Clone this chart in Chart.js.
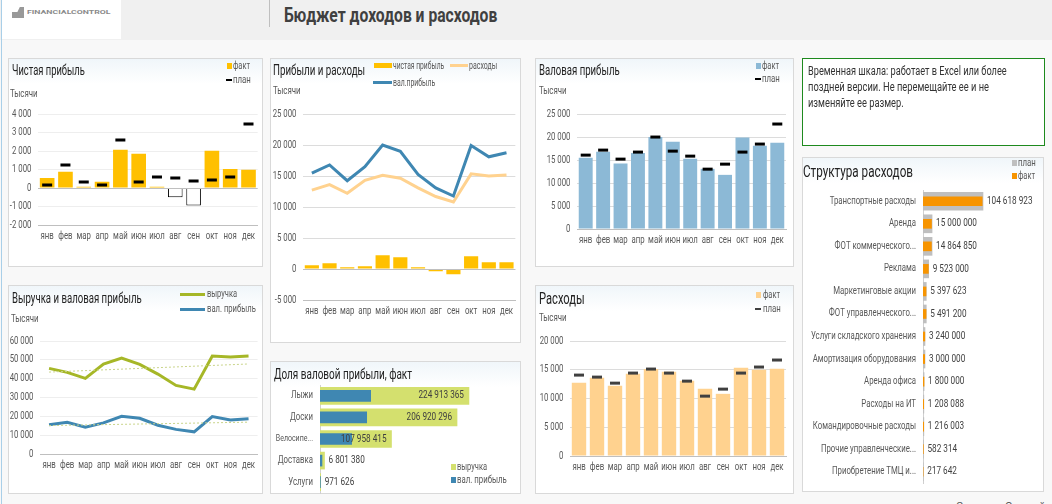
<!DOCTYPE html>
<html lang="ru">
<head>
<meta charset="utf-8">
<title>Бюджет доходов и расходов</title>
<script src="https://cdn.jsdelivr.net/npm/chart.js@4"></script>
<style>
    html, body { margin: 0; padding: 0; }
    body { width: 1052px; height: 504px; overflow: hidden; position: relative; background: #f8f8f8; font-family: Roboto, sans-serif; color: #595959; }
    .band { position: absolute; left: 0; top: 0; width: 1052px; height: 40px; background: #f0f0f0; }
    .logo { position: absolute; left: 2px; top: 0; width: 119px; height: 39px; background: #fff; }
    .logo span { position: absolute; left: 25px; top: 8px; font-size: 6px; font-weight: bold; color: #8a8a8a; transform-origin: left; }
    .logo i { position: absolute; left: 10px; top: 7px; width: 12px; height: 11px; background: #999; clip-path: polygon(0 45%, 45% 45%, 65% 0, 100% 0, 100% 100%, 0 100%); }
    .sep { position: absolute; left: 269px; top: 0; width: 1px; height: 27px; background: #bfbfbf; }
    .edge { position: absolute; left: 1px; top: 0; width: 1px; height: 504px; background: #a9cfe8; }
    h1 { position: absolute; left: 284px; top: 3px; margin: 0; font-size: 20px; font-weight: bold; color: #404040; white-space: nowrap; transform-origin: left; }
    .panel { position: absolute; background: #fff; border: 1px solid #d9d9d9; box-sizing: border-box; }
    .panel::before { content: ""; position: absolute; left: 0; right: 0; top: 0; height: 25px; background: linear-gradient(#f0f6fa, #fff); }
    .panel canvas { position: absolute; left: 0; top: 0; }
    .ttl, .unit, .leg, .line { position: absolute; white-space: nowrap; transform-origin: left; z-index: 2; }
    .ttl { font-size: 14px; color: #222; }
    .unit { font-size: 11px; line-height: 14px; color: #595959; }
    .leg { font-size: 10px; line-height: 12px; color: #595959; }
    .sw { position: absolute; display: block; z-index: 2; }
    .note { position: absolute; left: 802px; top: 58px; width: 243px; height: 88px; box-sizing: border-box; background: #fff; border: 1px solid #1e8a1e; }
    .line { left: 5px; font-size: 12px; line-height: 16px; color: #333; }
    .clip { position: absolute; top: 500px; font-size: 11px; line-height: 13px; color: #595959; }
</style>
</head>
<body>
<div class="band"></div>
<div class="edge"></div>
<div class="logo"><i></i><span data-w="84">FINANCIALCONTROL</span></div>
<div class="sep"></div>
<h1 data-w="213">Бюджет доходов и расходов</h1>

<div class="panel" style="left:8px;top:58px;width:255px;height:209px">
    <div class="ttl" style="left:3px;top:3px" data-w="73">Чистая прибыль</div>
    <div class="unit" style="left:1px;top:28px" data-w="28">Тысячи</div>
    <b class="sw" style="left:218px;top:4px;width:5px;height:6px;background:#ffc000"></b>
    <div class="leg" style="left:224px;top:1px" data-w="17">факт</div>
    <b class="sw" style="left:217px;top:20px;width:6px;height:2px;background:#000"></b>
    <div class="leg" style="left:224px;top:15px" data-w="18">план</div>
    <canvas id="netChart" width="253" height="207"></canvas>
</div>
<div class="panel" style="left:270px;top:58px;width:251px;height:285px">
    <div class="ttl" style="left:2px;top:3px" data-w="92">Прибыли и расходы</div>
    <div class="unit" style="left:2px;top:25px" data-w="28">Тысячи</div>
    <b class="sw" style="left:103px;top:4px;width:18px;height:5px;background:#ffc000"></b>
    <div class="leg" style="left:122px;top:1px" data-w="51">чистая прибыль</div>
    <b class="sw" style="left:179px;top:5px;width:18px;height:3px;background:#ffd28f"></b>
    <div class="leg" style="left:198px;top:1px" data-w="28">расходы</div>
    <b class="sw" style="left:102px;top:22px;width:19px;height:3px;background:#3f87b2"></b>
    <div class="leg" style="left:122px;top:18px" data-w="42">вал.прибыль</div>
    <canvas id="mixChart" width="249" height="283"></canvas>
</div>
<div class="panel" style="left:535px;top:58px;width:259px;height:209px">
    <div class="ttl" style="left:3px;top:3px" data-w="81">Валовая прибыль</div>
    <div class="unit" style="left:3px;top:25px" data-w="28">Тысячи</div>
    <b class="sw" style="left:220px;top:4px;width:5px;height:6px;background:#8cb9d6"></b>
    <div class="leg" style="left:226px;top:1px" data-w="17">факт</div>
    <b class="sw" style="left:219px;top:19px;width:6px;height:2px;background:#000"></b>
    <div class="leg" style="left:226px;top:14px" data-w="18">план</div>
    <canvas id="grossChart" width="257" height="207"></canvas>
</div>
<div class="note">
    <div class="line" style="top:4px" data-w="199">Временная шкала: работает в Excel или более</div>
    <div class="line" style="top:20px" data-w="181">поздней версии. Не перемещайте ее и не</div>
    <div class="line" style="top:36px" data-w="96">изменяйте ее размер.</div>
</div>
<div class="panel" style="left:802px;top:157px;width:242px;height:335px">
    <div class="ttl" style="left:0;top:3px;font-size:17px" data-w="110">Структура расходов</div>
    <b class="sw" style="left:209px;top:2px;width:5px;height:6px;background:#bfbfbf"></b>
    <div class="leg" style="left:215px;top:-1px" data-w="18">план</div>
    <b class="sw" style="left:209px;top:15px;width:5px;height:6px;background:#f79400"></b>
    <div class="leg" style="left:215px;top:12px" data-w="17">факт</div>
    <canvas id="costChart" width="240" height="341"></canvas>
</div>
<div class="panel" style="left:8px;top:285px;width:255px;height:209px">
    <div class="ttl" style="left:3px;top:4px" data-w="130">Выручка и валовая прибыль</div>
    <div class="unit" style="left:2px;top:26px" data-w="28">Тысячи</div>
    <b class="sw" style="left:171px;top:7px;width:25px;height:3px;background:#a6b727"></b>
    <div class="leg" style="left:198px;top:2px" data-w="30">выручка</div>
    <b class="sw" style="left:171px;top:22px;width:25px;height:3px;background:#3f87b2"></b>
    <div class="leg" style="left:198px;top:17px" data-w="49">вал. прибыль</div>
    <canvas id="revChart" width="253" height="207"></canvas>
</div>
<div class="panel" style="left:270px;top:361px;width:251px;height:133px">
    <div class="ttl" style="left:3px;top:4px" data-w="138">Доля валовой прибыли, факт</div>
    <b class="sw" style="left:180px;top:102px;width:5px;height:6px;background:#d4e06e"></b>
    <div class="leg" style="left:186px;top:99px" data-w="30">выручка</div>
    <b class="sw" style="left:180px;top:115px;width:5px;height:6px;background:#3f87b2"></b>
    <div class="leg" style="left:186px;top:112px" data-w="50">вал. прибыль</div>
    <canvas id="shareChart" width="249" height="147"></canvas>
</div>
<div class="panel" style="left:535px;top:285px;width:259px;height:209px">
    <div class="ttl" style="left:3px;top:2px;font-size:17px" data-w="46">Расходы</div>
    <div class="unit" style="left:3px;top:25px" data-w="28">Тысячи</div>
    <b class="sw" style="left:220px;top:6px;width:5px;height:6px;background:#ffd28f"></b>
    <div class="leg" style="left:227px;top:3px" data-w="17">факт</div>
    <b class="sw" style="left:219px;top:22px;width:6px;height:2px;background:#404040"></b>
    <div class="leg" style="left:227px;top:17px" data-w="18">план</div>
    <canvas id="costMonthChart" width="257" height="207"></canvas>
</div>
<div class="clip" style="left:956px">С</div>
<div class="clip" style="left:1005px">О</div>
<div class="clip" style="left:1039px">й</div>

<script>
const months = ['янв', 'фев', 'мар', 'апр', 'май', 'июн', 'июл', 'авг', 'сен', 'окт', 'ноя', 'дек'];

const netFact = [540, 880, 70, 340, 2070, 1855, 70, -505, -940, 2020, 1030, 990];
const netPlan = [160, 1240, 320, 160, 2590, 320, 595, 540, 380, 430, 595, 3460];
const netMix = [590, 920, 270, 430, 2200, 1890, 270, -380, -860, 2050, 1080, 1080];
const grossFact = [15480, 16790, 14240, 16500, 19990, 18970, 15260, 13080, 11770, 19910, 18100, 18750];
const grossPlan = [16060, 17150, 15190, 16720, 19990, 16930, 15840, 13010, 14100, 16720, 18460, 22820];
const costFact = [12730, 13600, 12210, 14300, 15120, 14650, 13080, 11690, 10810, 15350, 15000, 15170];
const costPlan = [14070, 13720, 12670, 14420, 15120, 14420, 13020, 10410, 11630, 14420, 15470, 16690];
const revenue = [45460, 43330, 40140, 47780, 50980, 47600, 42450, 36410, 34460, 52040, 51510, 52040];
// trend lines only have their two ends, the gap is spanned
const revenueTrend = [43500, null, null, null, null, null, null, null, null, null, null, 47800];
const grossTrend = [15100, null, null, null, null, null, null, null, null, null, null, 16900];

const shareCats = ['Лыжи', 'Доски', 'Велосипе...', 'Доставка', 'Услуги'];
const shareRevenue = [224913365, 206920296, 107958415, 6801380, 971626];
const shareGross = [76500000, 70500000, 47800000, 3000000, 600000];

const structCats = ['Транспортные расходы', 'Аренда', 'ФОТ коммерческого...', 'Реклама', 'Маркетинговые акции', 'ФОТ управленческого...', 'Услуги складского хранения', 'Амортизация оборудования', 'Аренда офиса', 'Расходы на ИТ', 'Командировочные расходы', 'Прочие управленческие...', 'Приобретение ТМЦ и...'];
const structFact = [104618923, 15000000, 14864850, 9523000, 5397623, 5491200, 3240000, 3000000, 1800000, 1208088, 1216003, 582314, 217642];
const structPlan = [106000000, 16000000, 16000000, 10000000, 5800000, 5800000, 3500000, 3500000, 1900000, 1500000, 1500000, 900000, 500000];

// The reference text is squeezed sideways, no installed font is that narrow
const squeeze = 0.78;
document.querySelectorAll('[data-w]').forEach(el => {
    el.style.transform = `scaleX(${el.dataset.w / el.offsetWidth})`;
});

const tickFont = { family: 'Roboto, sans-serif', size: 10 };
const labelFont = '10.5px Roboto, sans-serif';
const tickColor = '#595959';

Chart.defaults.animation = false;
Chart.defaults.responsive = false;
Chart.defaults.plugins.legend.display = false;
Chart.defaults.plugins.tooltip.enabled = false;

// Same squeeze for everything Chart.js writes on the canvas
Chart.register({
    id: 'narrowText',
    beforeInit(chart) {
        const ctx = chart.ctx;
        const fillText = ctx.fillText.bind(ctx);
        ctx.fillText = (text, x, y) => {
            ctx.save();
            ctx.translate(x, y);
            ctx.scale(squeeze, 1);
            fillText(text, 0, 0);
            ctx.restore();
        };
    }
});

const spaced = n => String(n).replace(/\B(?=(\d{3})+$)/g, ' ');

// Pixel box of a plot, given in canvas coordinates
function fixedScales(box, canvasW, canvasH, yMin, yMax, yStep, gridColor) {
    return {
        layout: { autoPadding: false, padding: { left: 0, right: canvasW - box.right, top: box.top, bottom: 0 } },
        scales: {
            x: {
                offset: true,
                grid: { display: false, drawTicks: false },
                border: { color: '#bfbfbf' },
                ticks: { font: tickFont, color: tickColor, autoSkip: false, maxRotation: 0, padding: 5 },
                afterFit: s => { s.height = canvasH - box.bottom; }
            },
            y: {
                min: yMin, max: yMax,
                grid: { color: gridColor, drawTicks: false },
                border: { display: false },
                ticks: { font: tickFont, color: tickColor, stepSize: yStep, padding: 6.5, callback: v => spaced(v) },
                afterFit: s => { s.width = box.left; }
            }
        }
    };
}

// Zero axis on top of the grid for charts with negative values
const zeroAxis = {
    id: 'zeroAxis',
    afterDatasetsDraw(chart) {
        const { ctx, chartArea, scales } = chart;
        const y = Math.round(scales.y.getPixelForValue(0)) + 0.5;
        ctx.save();
        ctx.strokeStyle = '#bfbfbf';
        ctx.beginPath();
        ctx.moveTo(chartArea.left, y);
        ctx.lineTo(chartArea.right, y);
        ctx.stroke();
        ctx.restore();
    }
};

function planDataset(values, color) {
    return {
        type: 'line', data: values, showLine: false, order: 0,
        pointStyle: 'line', pointRadius: 5, pointBorderWidth: 3,
        pointBorderColor: color, pointBackgroundColor: color
    };
}

// Чистая прибыль
new Chart(document.getElementById('netChart'), {
    type: 'bar',
    data: {
        labels: months,
        datasets: [
            planDataset(netPlan, '#000'),
            {
                data: netFact, order: 1, categoryPercentage: 1, barPercentage: 0.8,
                backgroundColor: netFact.map(v => v < 0 ? '#fff' : '#ffc000'),
                borderColor: netFact.map(v => v < 0 ? '#000' : '#ffc000'),
                borderWidth: netFact.map(v => v < 0 ? 1 : 0)
            }
        ]
    },
    options: fixedScales({ left: 29, right: 250, top: 55, bottom: 166 }, 253, 207, -2000, 4000, 1000, '#eeeeee'),
    plugins: [zeroAxis]
});

// Прибыли и расходы
new Chart(document.getElementById('mixChart'), {
    type: 'bar',
    data: {
        labels: months,
        datasets: [
            { type: 'line', data: grossFact, order: 0, borderColor: '#3f87b2', borderWidth: 3, pointRadius: 0, tension: 0 },
            { type: 'line', data: costFact, order: 1, borderColor: '#ffd28f', borderWidth: 3, pointRadius: 0, tension: 0 },
            { data: netMix, order: 2, backgroundColor: '#ffc000', categoryPercentage: 1, barPercentage: 0.8 }
        ]
    },
    options: fixedScales({ left: 32, right: 246, top: 55, bottom: 241 }, 249, 283, -5000, 25000, 5000, '#dcdcdc'),
    plugins: [zeroAxis]
});

// Валовая прибыль
new Chart(document.getElementById('grossChart'), {
    type: 'bar',
    data: {
        labels: months,
        datasets: [
            planDataset(grossPlan, '#000'),
            { data: grossFact, order: 1, backgroundColor: '#8cb9d6', categoryPercentage: 1, barPercentage: 0.8 }
        ]
    },
    options: fixedScales({ left: 41, right: 250, top: 55, bottom: 170 }, 257, 207, 0, 25000, 5000, '#dcdcdc')
});

// Выручка и валовая прибыль
new Chart(document.getElementById('revChart'), {
    type: 'line',
    data: {
        labels: months,
        datasets: [
            { data: revenueTrend, spanGaps: true, borderColor: '#c9d48a', borderWidth: 1, borderDash: [2, 2], pointRadius: 0 },
            { data: grossTrend, spanGaps: true, borderColor: '#c9d48a', borderWidth: 1, borderDash: [2, 2], pointRadius: 0 },
            { data: revenue, borderColor: '#a6b727', borderWidth: 3, pointRadius: 0 },
            { data: grossFact, borderColor: '#3f87b2', borderWidth: 3, pointRadius: 0 }
        ]
    },
    options: fixedScales({ left: 31, right: 251, top: 55, bottom: 168 }, 253, 207, 0, 60000, 10000, '#eeeeee')
});

// Расходы
new Chart(document.getElementById('costMonthChart'), {
    type: 'bar',
    data: {
        labels: months,
        datasets: [
            planDataset(costPlan, '#404040'),
            { data: costFact, order: 1, backgroundColor: '#ffd28f', categoryPercentage: 1, barPercentage: 0.8 }
        ]
    },
    options: fixedScales({ left: 34, right: 250, top: 55, bottom: 170 }, 257, 207, 0, 20000, 5000, '#dcdcdc')
});

// Value labels next to the horizontal bars
function barLabels(id, barIndex, values, inside) {
    return {
        id,
        afterDatasetsDraw(chart) {
            const { ctx } = chart;
            const meta = chart.getDatasetMeta(barIndex);
            ctx.save();
            ctx.font = labelFont;
            ctx.fillStyle = '#404040';
            ctx.textBaseline = 'middle';
            values.forEach((v, i) => {
                const el = meta.data[i];
                if (inside(v)) {
                    ctx.textAlign = 'right';
                    ctx.fillText(spaced(v), el.x - 5, el.y);
                } else {
                    ctx.textAlign = 'left';
                    ctx.fillText(spaced(v), el.x + 4, el.y);
                }
            });
            ctx.restore();
        }
    };
}

// These charts always keep about 15px free at the bottom, so their canvas runs past the plot by more than that
function horizontalOptions(box, canvasW, canvasH, xMax, font) {
    return {
        indexAxis: 'y',
        layout: { autoPadding: false, padding: { left: 0, right: canvasW - box.right, top: box.top, bottom: canvasH - box.bottom } },
        scales: {
            x: {
                min: 0, max: xMax,
                grid: { display: false, drawTicks: false },
                border: { display: false },
                ticks: { display: false }
            },
            y: {
                grid: { display: false, drawTicks: false },
                border: { color: '#d0d0d0' },
                ticks: { font, color: tickColor, autoSkip: false, padding: 7 },
                afterFit: s => { s.width = box.left; }
            }
        }
    };
}

// Доля валовой прибыли
new Chart(document.getElementById('shareChart'), {
    type: 'bar',
    data: {
        labels: shareCats,
        datasets: [
            { data: shareRevenue, backgroundColor: '#d4e06e', barThickness: 17, grouped: false, order: 2 },
            { data: shareGross, backgroundColor: '#3f87b2', barThickness: 11, grouped: false, order: 1 }
        ]
    },
    // the cut-off category is the only long one and has to fit the panel
    options: horizontalOptions({ left: 49, right: 249, top: 23, bottom: 131 }, 249, 147, 302000000,
        c => ({ ...tickFont, size: shareCats[c.index].length > 9 ? 9 : 10 })),
    plugins: [barLabels('shareLabels', 0, shareRevenue, v => v > 50000000)]
});

// Структура расходов
new Chart(document.getElementById('costChart'), {
    type: 'bar',
    data: {
        labels: structCats,
        datasets: [
            { data: structPlan, backgroundColor: '#bfbfbf', barThickness: 18, grouped: false, order: 2 },
            { data: structFact, backgroundColor: '#f79400', barThickness: 9, grouped: false, order: 1 }
        ]
    },
    options: horizontalOptions({ left: 120, right: 240, top: 32, bottom: 325 }, 240, 341, 212000000, tickFont),
    plugins: [barLabels('structLabels', 0, structFact, () => false)]
});
</script>
</body>
</html>
